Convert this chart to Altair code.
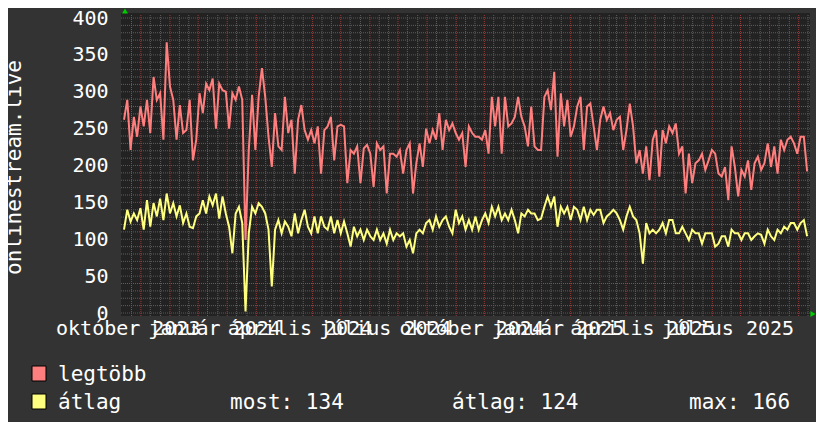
import json
import altair as alt
import pandas as pd

# ---------------- data ----------------
START = "2023-09-27"          # left edge of the time axis
END = "2025-09-26"            # right edge of the time axis
STEP_HOURS = 84               # one sample every 3.5 days

legtobb = [
    262, 289, 221, 266, 239, 280, 253, 289, 244, 320,
    289, 298, 235, 367, 307, 289, 235, 282, 244, 248,
    289, 207, 235, 298, 271, 311, 302, 318, 250, 311,
    302, 300, 250, 298, 289, 307, 289, 99, 221, 296,
    221, 293, 332, 293, 239, 198, 271, 226, 221, 293,
    244, 262, 189, 262, 282, 248, 235, 248, 230, 253,
    189, 248, 253, 266, 207, 253, 255, 253, 176, 221,
    216, 226, 176, 223, 228, 216, 171, 230, 221, 226,
    162, 216, 216, 212, 221, 189, 221, 230, 162, 203, 230,
    198, 250, 230, 248, 235, 271, 221, 262, 248, 257,
    244, 235, 244, 198, 253, 244, 239, 239, 235, 248,
    216, 293, 253, 293, 216, 293, 253, 257, 266, 293,
    266, 253, 226, 280, 226, 221, 221, 293, 302, 275,
    327, 212, 298, 253, 289, 239, 253, 280, 293, 221,
    280, 284, 253, 221, 262, 280, 262, 271, 248, 262,
    266, 221, 248, 284, 253, 203, 221, 189, 226, 180,
    235, 248, 185, 248, 230, 253, 244, 257, 216, 226,
    162, 216, 176, 203, 207, 216, 194, 207, 221, 216,
    189, 185, 198, 153, 226, 198, 158, 194, 185, 207,
    167, 203, 212, 194, 203, 230, 198, 226, 189, 235,
    221, 235, 239, 230, 216, 239, 239, 192,
]

atlag = [
    113, 140, 124, 135, 126, 142, 113, 153, 117, 149,
    131, 155, 126, 162, 135, 149, 131, 146, 122, 135,
    117, 115, 131, 135, 153, 135, 158, 146, 162, 128,
    158, 135, 117, 81, 135, 144, 122, 2, 108, 144,
    135, 149, 144, 135, 113, 36, 113, 126, 108, 124,
    117, 104, 135, 108, 126, 140, 117, 108, 131, 108,
    131, 117, 113, 131, 108, 126, 108, 124, 108, 90,
    117, 104, 113, 99, 113, 104, 99, 113, 99, 108,
    94, 113, 99, 108, 104, 108, 90, 99, 81, 108, 113,
    108, 122, 126, 113, 131, 117, 126, 131, 117, 108,
    140, 122, 131, 113, 126, 113, 131, 113, 126, 135,
    122, 144, 131, 144, 126, 135, 126, 140, 126, 108,
    135, 131, 140, 135, 135, 126, 128, 144, 158, 144,
    158, 117, 144, 135, 144, 126, 144, 140, 126, 144,
    126, 140, 133, 140, 140, 122, 131, 135, 140, 135,
    126, 113, 131, 144, 131, 126, 108, 67, 122, 108,
    113, 108, 113, 122, 108, 126, 126, 108, 108, 117,
    108, 99, 113, 108, 108, 94, 108, 108, 108, 90,
    94, 104, 104, 90, 113, 108, 108, 99, 108, 108,
    99, 104, 108, 106, 94, 113, 104, 99, 113, 108,
    117, 113, 122, 122, 113, 122, 126, 104,
]

series_names = ["legtöbb", "átlag"]
series_colors = ["#FF7F7F", "#FFFF7F"]
stat_texts = ["most: 134", "átlag: 124", "max: 166"]
y_title = "onlinestream.live"
y_ticks = [0, 50, 100, 150, 200, 250, 300, 350, 400]
label_dates = ["2023-10-01", "2024-01-01", "2024-04-01", "2024-07-01",
               "2024-10-01", "2025-01-01", "2025-04-01", "2025-07-01"]
month_names = ["január", "február", "március", "április", "május", "június",
               "július", "augusztus", "szeptember", "október", "november", "december"]

# ---------------- tables ----------------
FONT = "DejaVu Sans Mono"
W, H = 685, 295


def iso(ts):
    return pd.Timestamp(ts).strftime("%Y-%m-%dT%H:%M:%SZ")


def dt(s):
    t = pd.Timestamp(s)
    return alt.DateTime(year=t.year, month=t.month, date=t.day, utc=True)


times = pd.date_range(START, periods=len(legtobb), freq=f"{STEP_HOURS}h")
df = pd.DataFrame({
    "t": [iso(t) for t in times] * 2,
    "v": legtobb + atlag,
    "s": [series_names[0]] * len(legtobb) + [series_names[1]] * len(atlag),
})

t0, t1 = pd.Timestamp(START), pd.Timestamp(END)
month_starts = pd.date_range("2023-09-01", "2025-10-01", freq="MS")
major_x = [iso(m + pd.Timedelta(days=14)) for m in month_starts
           if t0 <= m + pd.Timedelta(days=14) <= t1]
minor_x = [iso(m + pd.Timedelta(days=d)) for m in month_starts for d in (4, 24)
           if t0 <= m + pd.Timedelta(days=d) <= t1]
major_y = list(range(0, 401, 50))
minor_y = [v for v in range(0, 401, 10) if v % 50]

xscale = alt.Scale(type="utc", domain=[dt(START), dt(END)])
yscale = alt.Scale(domain=[0, 400], nice=False, zero=False)

label_expr = (json.dumps(month_names, ensure_ascii=False)
              + "[utcmonth(datum.value)] + ' ' + utcyear(datum.value)")

x_axis = alt.Axis(values=[dt(d) for d in label_dates], labelExpr=label_expr,
                  labelFont=FONT, labelFontSize=20, labelColor="#FFFFFF",
                  labelPadding=5, ticks=False, tickSize=0, domain=False,
                  grid=False, title=None, labelOverlap=False,
                  labelFlush=False, labelBound=False, labelAlign="center")
y_axis = alt.Axis(values=y_ticks, labelFont=FONT, labelFontSize=20,
                  labelColor="#FFFFFF", labelPadding=16, ticks=False,
                  tickSize=0, domain=False, grid=False, labelFlush=False,
                  labelOverlap=False, title=y_title, titleFont=FONT,
                  titleFontSize=21, titleFontWeight="normal",
                  titleColor="#FFFFFF", titleAngle=270, titleX=-110,
                  titleY=149, titleAlign="center", titleBaseline="middle")

one = pd.DataFrame({"a": [0]})

# plot background
bg = alt.Chart(one).mark_rect(color="#222222").encode(
    x=alt.value(-3), x2=alt.value(W + 1), y=alt.value(-5), y2=alt.value(H + 3))


def vrules(dates, color):
    return alt.Chart(pd.DataFrame({"t": dates})).mark_rule(
        color=color, strokeWidth=1, strokeDash=[1, 1]).encode(
        x=alt.X("t:T", scale=xscale, axis=x_axis),
        y=alt.value(-3), y2=alt.value(H + 3))


def hrules(vals, color):
    return alt.Chart(pd.DataFrame({"v": vals})).mark_rule(
        color=color, strokeWidth=1, strokeDash=[1, 1]).encode(
        y=alt.Y("v:Q", scale=yscale, axis=y_axis),
        x=alt.value(-3), x2=alt.value(W + 1))


lines = alt.Chart(df).mark_line(strokeWidth=2).encode(
    x=alt.X("t:T", scale=xscale, axis=x_axis),
    y=alt.Y("v:Q", scale=yscale, axis=y_axis),
    color=alt.Color("s:N", scale=alt.Scale(domain=series_names, range=series_colors),
                    legend=None),
)

arrow_up = alt.Chart(one).mark_point(shape="triangle-up", filled=True, size=35,
                                     color="#00CC00", opacity=1).encode(
    x=alt.value(1), y=alt.value(-7))
arrow_right = alt.Chart(one).mark_point(shape="triangle-right", filled=True, size=35,
                                        color="#00CC00", opacity=1).encode(
    x=alt.value(W + 4), y=alt.value(H + 1))

legend_layers = []
for k, (name, col) in enumerate(zip(series_names, series_colors)):
    legend_layers.append(
        alt.Chart(pd.DataFrame({"c": [col]})).mark_rect(stroke="#000000", strokeWidth=1).encode(
            fill=alt.Fill("c:N", scale=None),
            x=alt.value(-92), x2=alt.value(-78),
            y=alt.value(348 + 28 * k), y2=alt.value(363 + 28 * k)))
    legend_layers.append(
        alt.Chart(pd.DataFrame({"n": [name]})).mark_text(
            font=FONT, fontSize=21, color="#FFFFFF", align="left",
            baseline="alphabetic").encode(
            text="n:N", x=alt.value(-66), y=alt.value(363 + 28 * k)))

stat_x = [106, 328, 565]
for txt, sx in zip(stat_texts, stat_x):
    legend_layers.append(
        alt.Chart(pd.DataFrame({"n": [txt]})).mark_text(
            font=FONT, fontSize=21, color="#FFFFFF", align="left",
            baseline="alphabetic").encode(
            text="n:N", x=alt.value(sx), y=alt.value(391)))

chart = alt.layer(
    bg,
    vrules(minor_x, "#5e5e5e"),
    hrules(minor_y, "#5e5e5e"),
    vrules(major_x, "#9a3a3a"),
    hrules(major_y, "#9a3a3a"),
    lines,
    arrow_up,
    arrow_right,
    *legend_layers,
).properties(
    width=W, height=H,
    padding={"left": 116, "top": 10, "right": 7, "bottom": 109},
    autosize=alt.AutoSizeParams(type="none"),
    background="#333333",
).configure_view(stroke=None, fill=None)

chart.save("out.html", embed_options={"renderer": "svg", "actions": False})
